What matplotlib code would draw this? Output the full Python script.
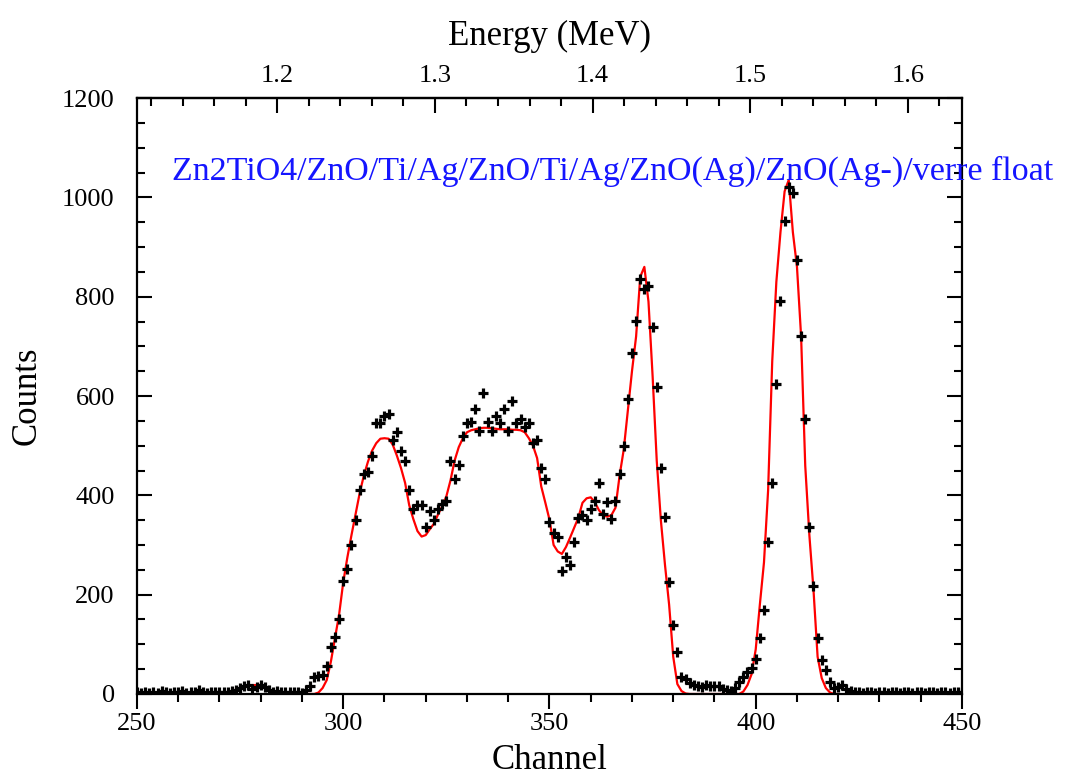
import numpy as np
import matplotlib
matplotlib.use("Agg")
import matplotlib.pyplot as plt
from matplotlib.ticker import MultipleLocator, FixedLocator

plt.rcParams["font.family"] = ["Liberation Serif", "DejaVu Serif"]

# measured spectrum (one value per channel, 250..450)
channels = np.arange(250, 451)
counts = [
    4, 3, 5, 2, 4, 3, 6, 4, 3, 5, 4, 6, 3, 5, 4, 8, 4, 3, 5, 4,          # 250-269
    4, 5, 5, 7, 8, 13, 16, 18, 10, 14, 19, 15, 8, 5, 6, 5, 5, 5, 4, 5,   # 270-289
    2, 9, 16, 34, 36, 38, 56, 95, 114, 151,                              # 290-299
    227, 251, 299, 351, 411, 442, 447, 480, 546, 546,                    # 300-309
    559, 563, 512, 528, 490, 469, 411, 372, 381, 381,                    # 310-319
    337, 368, 351, 372, 383, 388, 469, 433, 462, 519,                    # 320-329
    546, 548, 573, 529, 606, 547, 529, 559, 546, 574,                    # 330-339
    529, 590, 545, 553, 538, 546, 505, 512, 455, 432,                    # 340-349
    346, 325, 316, 247, 276, 260, 307, 354, 361, 351,                    # 350-359
    372, 388, 424, 362, 386, 352, 388, 442, 499, 593,                    # 360-369
    686, 751, 836, 815, 822, 738, 619, 455, 356, 225,                    # 370-379
    139, 85, 35, 30, 22, 18, 16, 15, 18, 17,                             # 380-389
    16, 17, 10, 8, 6, 12, 25, 35, 45, 52,                                # 390-399
    70, 113, 170, 306, 425, 625, 792, 953, 1020, 1009,                   # 400-409
    873, 720, 554, 337, 218, 113, 69, 48, 25, 12,                        # 410-419
    14, 18, 10, 6, 5, 4, 3, 5, 4, 3, 4, 5, 3, 4, 4, 3, 5, 4, 3, 4,       # 420-439
    4, 3, 5, 4, 3, 4, 5, 3, 4, 4, 3,                                     # 440-450
]

# simulated (fit) spectrum, channels 268..420
fit_channels = np.arange(268, 421)
fit_counts = [
    0, 0, 1, 2, 4, 5, 9, 12, 15, 17, 18, 18, 18, 14, 8, 4, 2, 1,         # 268-285
    0, 0, 0, 0, 0, 0, 0, 0, 3, 12, 28, 65, 112, 160,                     # 286-299
    225, 275, 320, 362, 405, 440, 468, 490, 505, 514,                    # 300-309
    515, 514, 502, 480, 455, 425, 380, 352, 328, 317,                    # 310-319
    320, 332, 343, 362, 378, 398, 430, 470, 497, 515,                    # 320-329
    527, 531, 533, 535, 536, 536, 535, 534, 533, 533,                    # 330-339
    533, 532, 532, 531, 527, 515, 500, 475, 418, 385,                    # 340-349
    351, 300, 287, 282, 296, 315, 335, 355, 385, 394,                    # 350-359
    396, 386, 370, 360, 357, 360, 375, 440, 492, 570,                    # 360-369
    650, 720, 840, 860, 790, 640, 470, 350, 260, 180,                    # 370-379
    75, 20, 6, 1, 0, 0, 0, 0, 0, 0,                                      # 380-389
    0, 0, 0, 0, 0, 0, 0, 5, 18, 40,                                      # 390-399
    90, 180, 265, 410, 670, 830, 930, 1012, 1035, 930,                   # 400-409
    860, 720, 460, 320, 210, 75, 32, 12, 3, 0, 0,                        # 410-420
]

energy_ticks = [1.2, 1.3, 1.4, 1.5, 1.6]

fig = plt.figure(figsize=(10.77, 7.81), dpi=100)
ax = fig.add_axes([0.1272, 0.1114, 0.766, 0.7631])

ax.plot(fit_channels, fit_counts, color="red", lw=1.6, zorder=2)
ax.plot(channels, counts, ls="none", marker="+", ms=6.5, mew=2.3,
        color="black", zorder=3)

ax.set_xlim(250, 450)
ax.set_ylim(0, 1200)
ax.xaxis.set_major_locator(MultipleLocator(50))
ax.xaxis.set_minor_locator(MultipleLocator(10))
ax.yaxis.set_major_locator(MultipleLocator(200))
ax.yaxis.set_minor_locator(MultipleLocator(50))

for s in ax.spines.values():
    s.set_linewidth(1.6)

ax.tick_params(axis="x", which="both", direction="out", top=False,
               labelsize=19, width=1.5, pad=3)
ax.tick_params(axis="y", which="both", direction="in", right=True,
               labelsize=19, width=1.5, pad=16)
ax.tick_params(which="major", length=11)
ax.tick_params(which="minor", length=6)

ax.set_xlabel("Channel", fontsize=25, labelpad=6)
ax.set_ylabel("Counts", fontsize=25, labelpad=13)

# energy scale on top
e0, ch0, de = 1.2, 284.0, 0.002616
top = ax.secondary_xaxis("top", functions=(lambda c: e0 + (c - ch0) * de,
                                           lambda e: ch0 + (e - e0) / de))
top.xaxis.set_major_locator(FixedLocator(energy_ticks))
top.xaxis.set_minor_locator(MultipleLocator(0.02))
top.tick_params(which="both", direction="in", labelsize=19, width=1.5, pad=8)
top.tick_params(which="major", length=11)
top.tick_params(which="minor", length=6)
top.spines["top"].set_linewidth(1.6)
top.set_xlabel("Energy (MeV)", fontsize=25, labelpad=14)

ax.text(258.5, 1053, "Zn2TiO4/ZnO/Ti/Ag/ZnO/Ti/Ag/ZnO(Ag)/ZnO(Ag-)/verre float",
        color="#1515ff", fontsize=24.5, va="center", ha="left", clip_on=False)

fig.savefig("out.png", dpi=100)
